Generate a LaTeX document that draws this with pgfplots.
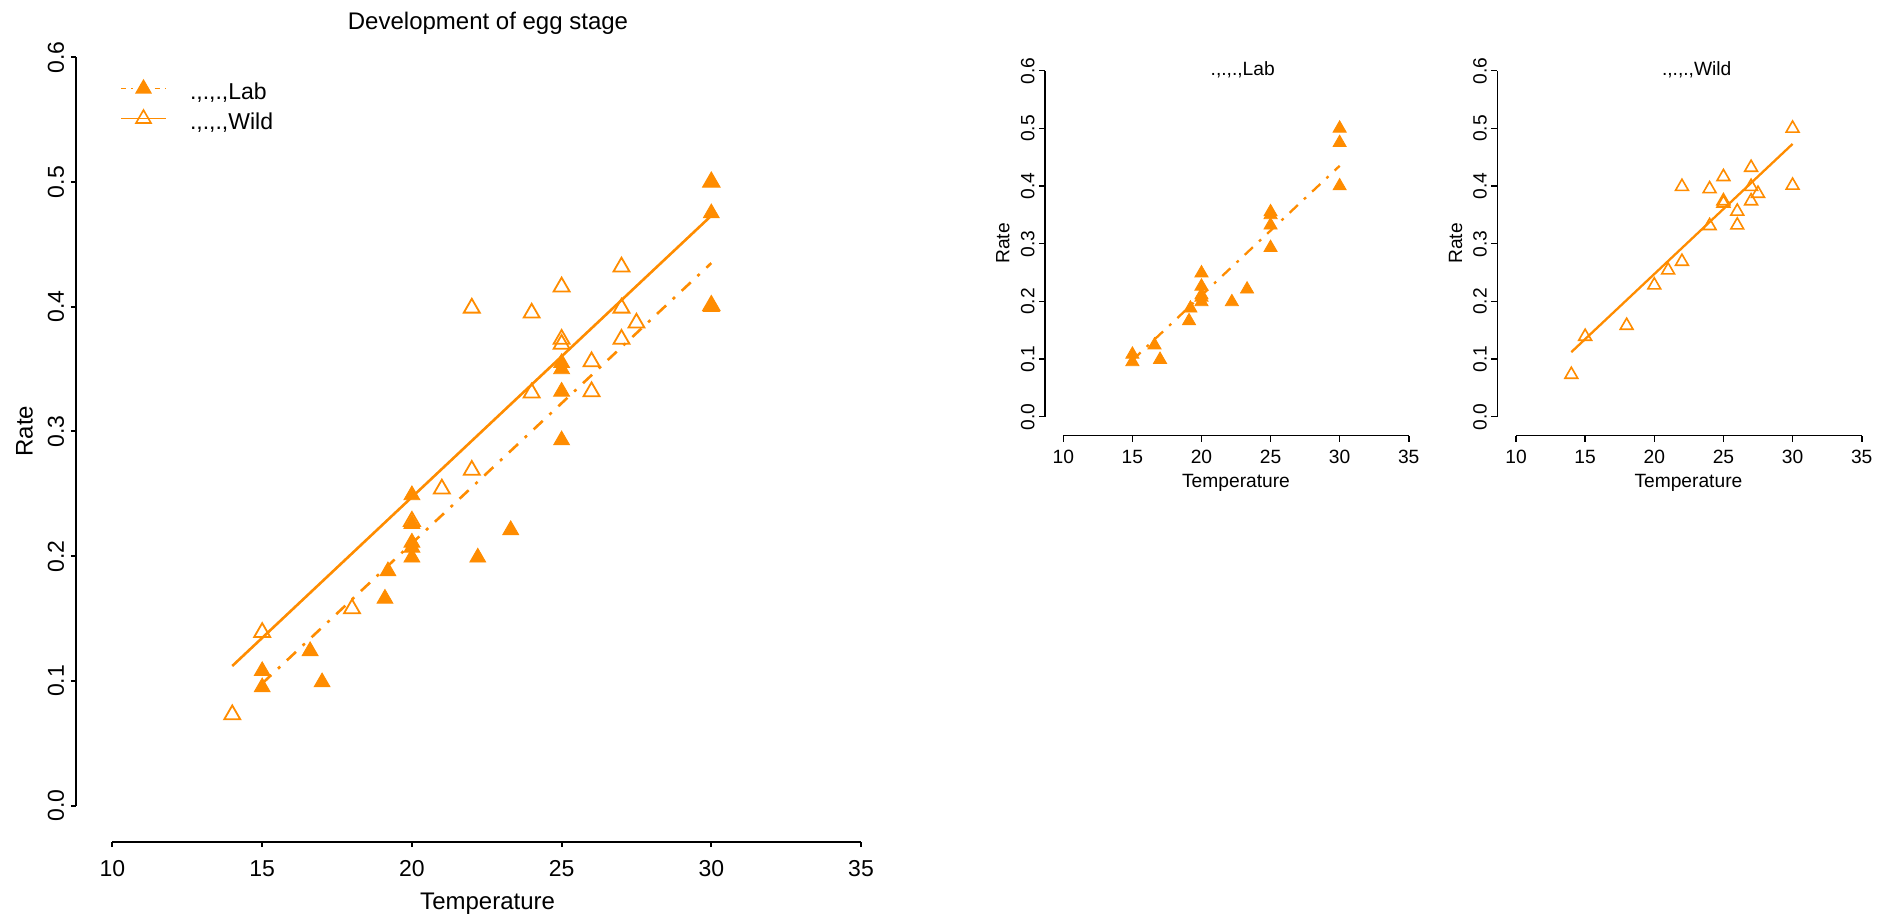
\documentclass[border=0pt]{standalone}
\usepackage{fontspec}
\setmainfont{Liberation Sans}
\usepackage{pgfplots}
\pgfplotsset{compat=1.18}
\usepackage{pgfplotstable}
\definecolor{dorange}{RGB}{255,140,0}

\pgfplotstableread{
x y
15 0.108
15 0.095
16.6 0.124
17 0.099
19.1 0.166
19.2 0.188
20 0.249
20 0.226
20 0.211
20 0.207
20 0.199
22.2 0.199
23.3 0.221
25 0.355
25 0.350
25 0.332
25 0.293
30 0.500
30 0.475
30 0.400
}\labdata

\pgfplotstableread{
x y
14 0.073
15 0.139
18 0.158
20 0.228
21 0.254
22 0.269
22 0.399
24 0.395
24 0.331
25 0.416
25 0.374
25 0.370
26 0.356
26 0.332
27 0.432
27 0.399
27 0.374
27.5 0.387
30 0.500
30 0.401
}\wilddata

\pgfplotsset{
  rstyle/.style={
    scale only axis,
    anchor=south west,
    axis line style={draw=none},
    tick pos=left, tick align=outside,
    xmax=35, ymax=0.6,
    xtick={10,15,20,25,30,35}, xticklabels={10,15,20,25,30,35},
    ytick={0,0.1,0.2,0.3,0.4,0.5,0.6}, yticklabels={0.0,0.1,0.2,0.3,0.4,0.5,0.6},
    xticklabel style={anchor=north, inner sep=0pt},
    yticklabel style={rotate=90, anchor=south, inner sep=0pt},
    clip=false,
  }
}

\begin{document}
\begin{tikzpicture}
\path[use as bounding box] (0,0) rectangle (946.5pt,458pt);

% ---------------- main panel ----------------
\begin{axis}[rstyle,
  at={(38.15pt,37.15pt)},
  width=392.35pt, height=392.2pt,
  xmin=8.791, ymin=-0.02886,
  major tick length=2.75pt,
  tick style={black, line width=1pt},
  xticklabel style={font=\fontsize{11.5}{13}\selectfont},
  yticklabel style={font=\fontsize{11.5}{13}\selectfont},
  xticklabel shift=6.4pt,
  yticklabel shift=3.1pt,
  legend style={draw=none, fill=none, at={(0.0557,0.972)}, anchor=north west,
    inner sep=0pt, row sep=0pt,
    nodes={inner sep=0pt, text height=10pt, text depth=5pt},
    font=\fontsize{11.5}{13}\selectfont,
    /tikz/every odd column/.append style={column sep=11.7pt}},
  legend cell align=left,
  legend image code/.code={\draw[mark repeat=2,mark phase=2] plot coordinates {(0pt,3pt) (11.25pt,3pt) (22.5pt,3pt)};},
]
\draw[line width=1pt] (axis cs:10,-0.02886) -- (axis cs:35,-0.02886);
\draw[line width=1pt] (axis cs:8.791,0) -- (axis cs:8.791,0.6);

\addlegendimage{dorange, line width=0.6pt, dash pattern=on 2.5pt off 2.6pt on 0.7pt off 2.6pt, mark=triangle*, mark size=4.3pt, mark options={solid, fill=dorange}}
\addlegendentry{.,.,.,Lab}
\addlegendimage{dorange, line width=0.6pt, mark=triangle, mark size=4.3pt, mark options={solid, line width=0.8pt}}
\addlegendentry{.,.,.,Wild}

\addplot[forget plot, only marks, mark=triangle*, mark size=4.6pt, color=dorange, fill=dorange] table {\labdata};
\addplot[forget plot, only marks, mark=triangle, mark size=4.6pt, color=dorange, mark options={line width=0.9pt}] table {\wilddata};
\addplot[forget plot, dorange, line width=1.3pt, dash pattern=on 6.2pt off 4.6pt on 1.5pt off 4.6pt] coordinates {(15,0.098) (30,0.435)};
\addplot[forget plot, dorange, line width=1.3pt] coordinates {(14,0.112) (30,0.473)};
\end{axis}

% ---------------- Lab panel ----------------
\begin{axis}[rstyle,
  at={(522.5pt,240.15pt)},
  width=181.85pt, height=182.5pt,
  xmin=8.6755, ymin=-0.03295,
  major tick length=3pt,
  tick style={black, line width=0.8pt},
  xticklabel style={font=\fontsize{9.6}{11}\selectfont},
  yticklabel style={font=\fontsize{9.6}{11}\selectfont},
  xticklabel shift=4.15pt,
  yticklabel shift=2pt,
]
\draw[line width=0.8pt] (axis cs:10,-0.03295) -- (axis cs:35,-0.03295);
\draw[line width=0.8pt] (axis cs:8.6755,0) -- (axis cs:8.6755,0.6);
\addplot[only marks, mark=triangle*, mark size=3.8pt, color=dorange, fill=dorange] table {\labdata};
\addplot[dorange, line width=1.15pt, dash pattern=on 5.6pt off 4.2pt on 1.4pt off 4.2pt] coordinates {(15,0.098) (30,0.435)};
\end{axis}

% ---------------- Wild panel ----------------
\begin{axis}[rstyle,
  at={(748.65pt,240.15pt)},
  width=182.2pt, height=182.5pt,
  xmin=8.648, ymin=-0.03295,
  major tick length=3pt,
  tick style={black, line width=0.8pt},
  xticklabel style={font=\fontsize{9.6}{11}\selectfont},
  yticklabel style={font=\fontsize{9.6}{11}\selectfont},
  xticklabel shift=4.15pt,
  yticklabel shift=2pt,
]
\draw[line width=0.8pt] (axis cs:10,-0.03295) -- (axis cs:35,-0.03295);
\draw[line width=0.8pt] (axis cs:8.648,0) -- (axis cs:8.648,0.6);
\addplot[only marks, mark=triangle, mark size=3.7pt, color=dorange, mark options={line width=0.8pt}] table {\wilddata};
\addplot[dorange, line width=1.15pt] coordinates {(14,0.112) (30,0.473)};
\end{axis}

% ---------------- texts ----------------
\node[font=\fontsize{12}{14}\selectfont, anchor=base, inner sep=0pt] at (244pt,443.35pt) {Development of egg stage};
\node[font=\fontsize{12}{14}\selectfont, anchor=base, inner sep=0pt] at (243.8pt,3.5pt) {Temperature};
\node[font=\fontsize{12}{14}\selectfont, rotate=90, anchor=south, inner sep=0pt] at (16.65pt,242.5pt) {Rate};

\node[font=\fontsize{9.6}{11}\selectfont, anchor=base, inner sep=0pt] at (621.35pt,420pt) {.,.,.,Lab};
\node[font=\fontsize{9.6}{11}\selectfont, anchor=base, inner sep=0pt] at (618pt,214.15pt) {Temperature};
\node[font=\fontsize{9.6}{11}\selectfont, rotate=90, anchor=south, inner sep=0pt] at (505pt,336.35pt) {Rate};

\node[font=\fontsize{9.6}{11}\selectfont, anchor=base, inner sep=0pt] at (848.35pt,420pt) {.,.,.,Wild};
\node[font=\fontsize{9.6}{11}\selectfont, anchor=base, inner sep=0pt] at (844.2pt,214.15pt) {Temperature};
\node[font=\fontsize{9.6}{11}\selectfont, rotate=90, anchor=south, inner sep=0pt] at (731.35pt,336.35pt) {Rate};
\end{tikzpicture}
\end{document}
